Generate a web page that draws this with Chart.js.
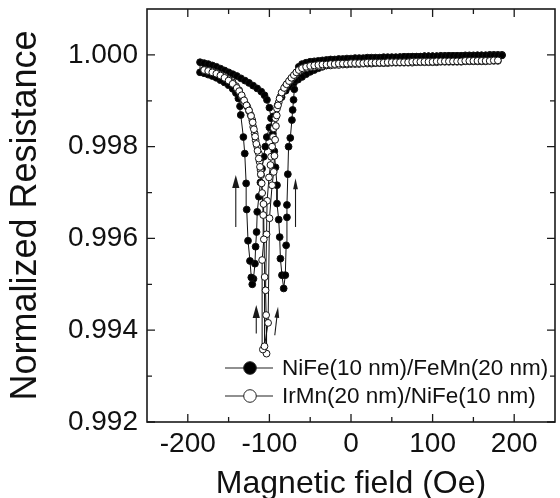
<!DOCTYPE html>
<html>
<head>
<meta charset="utf-8">
<script src="https://cdn.jsdelivr.net/npm/chart.js@4.4.1/dist/chart.umd.min.js"></script>
<style>
  html, body { margin: 0; padding: 0; background: #fff; }
  canvas { display: block; }
</style>
</head>
<body>
<canvas id="chart" width="560" height="498"></canvas>
<script>
const FONT = "'Liberation Sans', Arial, sans-serif";

// [field (Oe), normalized resistance] in sweep order
const niFeDown = [
  [185,1.00000],[180,1.00000],[175,1.00000],[170,1.00000],[165,0.99999],[160,0.99999],[155,0.99999],[150,0.99999],
  [145,0.99999],[140,0.99999],[135,0.99998],[130,0.99998],[125,0.99998],[120,0.99998],[115,0.99998],[110,0.99998],
  [105,0.99997],[100,0.99997],[95,0.99997],[90,0.99997],[85,0.99996],[80,0.99996],[75,0.99996],[70,0.99995],
  [65,0.99995],[60,0.99995],[55,0.99994],[50,0.99994],[45,0.99993],[40,0.99993],[35,0.99992],[30,0.99992],
  [25,0.99991],[20,0.99990],[15,0.99990],[10,0.99989],[5,0.99988],[0,0.99987],[-5,0.99986],[-10,0.99985],
  [-15,0.99983],[-20,0.99981],[-25,0.99979],[-30,0.99977],[-35,0.99974],[-40,0.99971],[-45,0.99967],[-50,0.99963],
  [-55,0.99958],[-60,0.99952],[-65,0.99946],[-70,0.99939],[-75,0.99931],[-80,0.99922],[-85,0.99908],[-90,0.99890],
  [-95,0.99866],[-100,0.99842],[-103.2,0.99821],[-105,0.99800],[-107,0.99778],[-109,0.99752],[-111,0.99722],
  [-112.9,0.99691],[-114.9,0.99658],[-115.7,0.99614],[-116.9,0.99582],[-117.7,0.99545],[-119.5,0.99512],
  [-121,0.99500],[-122.2,0.99515],[-123.8,0.99551],[-126.2,0.99595],[-127.8,0.99663],[-128.5,0.99720],
  [-130.2,0.99785],[-131.9,0.99821],[-135.1,0.99869],[-136,0.99888],[-138,0.99905],[-141,0.99917],[-145,0.99926],
  [-150,0.99934],[-155,0.99940],[-160,0.99945],[-165,0.99950],[-170,0.99954],[-175,0.99957],[-180,0.99960],[-185,0.99962]
];
const niFeUp = [
  [-185,0.99984],[-180,0.99982],[-175,0.99980],[-170,0.99977],[-165,0.99974],[-160,0.99970],[-155,0.99966],[-150,0.99962],
  [-145,0.99958],[-140,0.99954],[-135,0.99949],[-130,0.99944],[-125,0.99939],[-120,0.99933],[-115,0.99927],[-110,0.99920],
  [-106,0.99912],[-103,0.99902],[-100,0.99885],[-98,0.99862],[-96,0.99828],[-94,0.99790],[-92.5,0.99755],[-90.7,0.99716],
  [-90.7,0.99676],[-88.6,0.99641],[-87.4,0.99603],[-86.5,0.99556],[-84.6,0.99520],[-82.5,0.99491],[-80.5,0.99520],
  [-79.5,0.99585],[-78.5,0.99646],[-78.5,0.99673],[-77.4,0.99740],[-76.5,0.99800],[-74.4,0.99819],[-72.4,0.99858],
  [-71.5,0.99880],[-70.4,0.99902],[-69.5,0.99925],[-68.5,0.99945],[-66.5,0.99962],[-64,0.99974],[-60,0.99980],
  [-55,0.99983],[-50,0.99985],[-45,0.99986],[-40,0.99987],[-35,0.99988],[-30,0.99989],[-25,0.99990],[-20,0.99990],
  [-15,0.99991],[-10,0.99991],[-5,0.99992],[0,0.99992],[5,0.99993],[10,0.99993],[15,0.99993],[20,0.99994],[25,0.99994],
  [30,0.99994],[35,0.99994],[40,0.99995],[45,0.99995],[50,0.99995],[55,0.99995],[60,0.99995],[65,0.99996],[70,0.99996],
  [75,0.99996],[80,0.99996],[85,0.99996],[90,0.99997],[95,0.99997],[100,0.99997],[105,0.99997],[110,0.99997],[115,0.99997],
  [120,0.99998],[125,0.99998],[130,0.99998],[135,0.99998],[140,0.99998],[145,0.99998],[150,0.99998],[155,0.99999],
  [160,0.99999],[165,0.99999],[170,0.99999],[175,0.99999],[180,0.99999],[185,0.99999]
];
const irMnDown = [
  [180,0.99987],[175,0.99987],[170,0.99987],[165,0.99986],[160,0.99986],[155,0.99986],[150,0.99986],[145,0.99986],
  [140,0.99986],[135,0.99985],[130,0.99985],[125,0.99985],[120,0.99985],[115,0.99985],[110,0.99985],[105,0.99984],
  [100,0.99984],[95,0.99984],[90,0.99984],[85,0.99984],[80,0.99984],[75,0.99983],[70,0.99983],[65,0.99983],[60,0.99983],
  [55,0.99983],[50,0.99983],[45,0.99982],[40,0.99982],[35,0.99982],[30,0.99982],[25,0.99981],[20,0.99981],[15,0.99981],
  [10,0.99980],[5,0.99980],[0,0.99980],[-5,0.99979],[-10,0.99979],[-15,0.99978],[-20,0.99978],[-25,0.99977],[-30,0.99977],
  [-35,0.99976],[-40,0.99975],[-45,0.99974],[-50,0.99973],[-55,0.99971],[-60,0.99968],[-64,0.99964],[-68,0.99958],
  [-71,0.99952],[-74.4,0.99945],[-77.5,0.99938],[-80.5,0.99931],[-83.5,0.99920],[-86.5,0.99909],[-88.5,0.99897],
  [-90.7,0.99883],[-92.6,0.99862],[-94.7,0.99840],[-95.5,0.99821],[-96.7,0.99800],[-98,0.99778],[-98.7,0.99760],
  [-100.5,0.99733],[-102.8,0.99682],[-103.5,0.99609],[-104.7,0.99487],[-104,0.99433],[-103.5,0.99349],[-108,0.99358],
  [-108.9,0.99553],[-106.8,0.99598],[-107.6,0.99651],[-108.9,0.99699],[-110.1,0.99738],[-110.8,0.99749],[-112,0.99767],
  [-112.9,0.99785],[-114.9,0.99800],[-116.9,0.99814],[-118.1,0.99829],[-119.8,0.99843],[-121,0.99858],[-123,0.99869],
  [-125,0.99878],[-127.1,0.99887],[-129,0.99892],[-131.1,0.99897],[-134,0.99910],[-137.1,0.99923],[-141,0.99932],
  [-145,0.99940],[-150,0.99947],[-155,0.99953],[-160,0.99957],[-165,0.99961],[-170,0.99964],[-175,0.99966],[-180,0.99968]
];
const irMnUp = [
  [-180,0.99967],[-175,0.99965],[-170,0.99962],[-165,0.99959],[-160,0.99955],[-155,0.99950],[-150,0.99944],[-145,0.99937],
  [-140,0.99928],[-137,0.99921],[-134,0.99912],[-131,0.99901],[-128,0.99890],[-125,0.99879],[-122.5,0.99867],
  [-120.5,0.99853],[-119,0.99838],[-117.5,0.99822],[-116,0.99806],[-114.5,0.99791],[-113,0.99774],[-111.5,0.99756],
  [-110.5,0.99740],[-109.5,0.99720],[-107.2,0.99675],[-105.8,0.99516],[-106,0.99365],[-101.6,0.99416],[-99.9,0.99644],
  [-96.7,0.99716],[-94.7,0.99745],[-93.8,0.99780],[-93,0.99815],[-92,0.99845],[-91,0.99868],[-89.5,0.99890],
  [-87.5,0.99905],[-85,0.99918],[-82,0.99928],[-79,0.99936],[-76,0.99943],[-73,0.99950],[-70,0.99956],[-67,0.99962],
  [-64,0.99967],[-60,0.99971],[-55,0.99974],[-50,0.99976],[-45,0.99977],[-40,0.99978],[-35,0.99979],[-30,0.99979],
  [-25,0.99980],[-20,0.99980],[-15,0.99981],[-10,0.99981],[-5,0.99981],[0,0.99982],[5,0.99982],[10,0.99982],[15,0.99982],
  [20,0.99983],[25,0.99983],[30,0.99983],[35,0.99983],[40,0.99983],[45,0.99984],[50,0.99984],[55,0.99984],[60,0.99984],
  [65,0.99984],[70,0.99984],[75,0.99985],[80,0.99985],[85,0.99985],[90,0.99985],[95,0.99985],[100,0.99985],[105,0.99986],
  [110,0.99986],[115,0.99986],[120,0.99986],[125,0.99986],[130,0.99986],[135,0.99986],[140,0.99987],[145,0.99987],
  [150,0.99987],[155,0.99987],[160,0.99987],[165,0.99987],[170,0.99987],[175,0.99988],[180,0.99988]
];

const xTicks = [-200, -100, 0, 100, 200];
const xMinor = [-150, -50, 50, 150];
const yTicks = [0.992, 0.994, 0.996, 0.998, 1.000];
const yMinor = [0.993, 0.995, 0.997, 0.999];

// sweep arrows: [xFrom, yFrom, xTo, yTo, bold]
const arrows = [
  [-141.2, 0.99625, -141.2, 0.99738, true],
  [-68.0, 0.99625, -68.0, 0.99731, false],
  [-116.1, 0.99393, -116.1, 0.99455, true],
  [-93.4, 0.99389, -89.4, 0.99451, false]
];

const toPoints = rows => rows.map(([h, r]) => ({x: h, y: r}));

const decor = {
  id: 'decor',
  afterDatasetsDraw(chart) {
    const {ctx, chartArea: a, scales: {x, y}} = chart;
    ctx.save();
    ctx.strokeStyle = '#1a1a1a';
    ctx.fillStyle = '#1a1a1a';

    // inward ticks on all four sides
    ctx.lineWidth = 1.3;
    const vTicks = (vals, len) => vals.forEach(v => {
      const px = x.getPixelForValue(v);
      ctx.beginPath();
      ctx.moveTo(px, a.bottom); ctx.lineTo(px, a.bottom - len);
      ctx.moveTo(px, a.top); ctx.lineTo(px, a.top + len);
      ctx.stroke();
    });
    const hTicks = (vals, len) => vals.forEach(v => {
      const py = y.getPixelForValue(v);
      ctx.beginPath();
      ctx.moveTo(a.left, py); ctx.lineTo(a.left + len, py);
      ctx.moveTo(a.right, py); ctx.lineTo(a.right - len, py);
      ctx.stroke();
    });
    vTicks(xTicks, 8); vTicks(xMinor, 5);
    hTicks(yTicks, 8); hTicks(yMinor, 5);

    ctx.lineWidth = 1.6;
    ctx.strokeRect(a.left, a.top, a.right - a.left, a.bottom - a.top);

    // arrows
    arrows.forEach(([x0, y0, x1, y1, bold]) => {
      const px0 = x.getPixelForValue(x0), py0 = y.getPixelForValue(y0);
      const px1 = x.getPixelForValue(x1), py1 = y.getPixelForValue(y1);
      const ang = Math.atan2(py1 - py0, px1 - px0);
      const hl = bold ? 13 : 11, hw = bold ? 3.6 : 2.4;
      ctx.lineWidth = 1.1;
      ctx.beginPath();
      ctx.moveTo(px0, py0);
      ctx.lineTo(px1 - Math.cos(ang) * hl * 0.8, py1 - Math.sin(ang) * hl * 0.8);
      ctx.stroke();
      ctx.beginPath();
      ctx.moveTo(px1, py1);
      ctx.lineTo(px1 - Math.cos(ang) * hl - Math.sin(ang) * hw, py1 - Math.sin(ang) * hl + Math.cos(ang) * hw);
      ctx.lineTo(px1 - Math.cos(ang) * hl + Math.sin(ang) * hw, py1 - Math.sin(ang) * hl - Math.cos(ang) * hw);
      ctx.closePath();
      ctx.fill();
    });
    ctx.restore();
  },
  afterDraw(chart) {
    // legend inside the plot, lower right
    const {ctx} = chart;
    const rows = [368, 396];
    ctx.save();
    ctx.font = `22.5px ${FONT}`;
    ctx.textBaseline = 'middle';
    chart.data.datasets.forEach((ds, i) => {
      const yy = rows[i];
      ctx.strokeStyle = '#222';
      ctx.lineWidth = 1.2;
      ctx.beginPath();
      ctx.moveTo(225, yy); ctx.lineTo(273, yy);
      ctx.stroke();
      ctx.beginPath();
      ctx.arc(250, yy, 6.3, 0, Math.PI * 2);
      ctx.fillStyle = ds.pointBackgroundColor;
      ctx.fill();
      ctx.lineWidth = 1;
      ctx.stroke();
      ctx.fillStyle = '#111';
      ctx.fillText(ds.label, 282, yy + 1);
    });
    ctx.restore();
  }
};

new Chart(document.getElementById('chart'), {
  type: 'scatter',
  data: {
    datasets: [
      {
        label: 'NiFe(10 nm)/FeMn(20 nm)',
        data: toPoints([...niFeDown, ...niFeUp]),
        showLine: true,
        borderColor: '#111',
        borderWidth: 1,
        pointRadius: 3.4,
        pointBorderWidth: 1,
        pointBackgroundColor: '#000',
        pointBorderColor: '#111',
        order: 1
      },
      {
        label: 'IrMn(20 nm)/NiFe(10 nm)',
        data: toPoints([...irMnDown, ...irMnUp]),
        showLine: true,
        borderColor: '#111',
        borderWidth: 1,
        pointRadius: 3.4,
        pointBorderWidth: 1,
        pointBackgroundColor: '#fff',
        pointBorderColor: '#111',
        order: 0
      }
    ]
  },
  options: {
    responsive: false,
    animation: false,
    layout: {padding: {top: 9, right: 1, left: 0, bottom: 0}},
    plugins: {
      legend: {display: false},
      tooltip: {enabled: false}
    },
    scales: {
      x: {
        type: 'linear',
        min: -250,
        max: 250,
        afterBuildTicks: s => { s.ticks = xTicks.map(v => ({value: v})); },
        afterFit: s => { s.height = 76; s.paddingLeft = 0; s.paddingRight = 0; },
        grid: {display: false, drawTicks: false},
        border: {display: false},
        ticks: {
          padding: 5,
          color: '#111',
          font: {family: FONT, size: 28},
          callback: v => String(v)
        },
        title: {
          display: true,
          text: 'Magnetic field (Oe)',
          color: '#111',
          font: {family: FONT, size: 32, lineHeight: 0.75},
          padding: {top: 0, bottom: 2}
        }
      },
      y: {
        type: 'linear',
        min: 0.992,
        max: 1.001,
        afterBuildTicks: s => { s.ticks = yTicks.map(v => ({value: v})); },
        afterFit: s => { s.width = 147; s.paddingTop = 0; s.paddingBottom = 0; },
        grid: {display: false, drawTicks: false},
        border: {display: false},
        ticks: {
          padding: 9,
          color: '#111',
          font: {family: FONT, size: 28},
          callback: v => v.toFixed(3)
        },
        title: {
          display: true,
          text: 'Normalized Resistance',
          color: '#111',
          font: {family: FONT, size: 36, lineHeight: 1},
          padding: {top: 8, bottom: 0}
        }
      }
    }
  },
  plugins: [decor]
});
</script>
</body>
</html>
